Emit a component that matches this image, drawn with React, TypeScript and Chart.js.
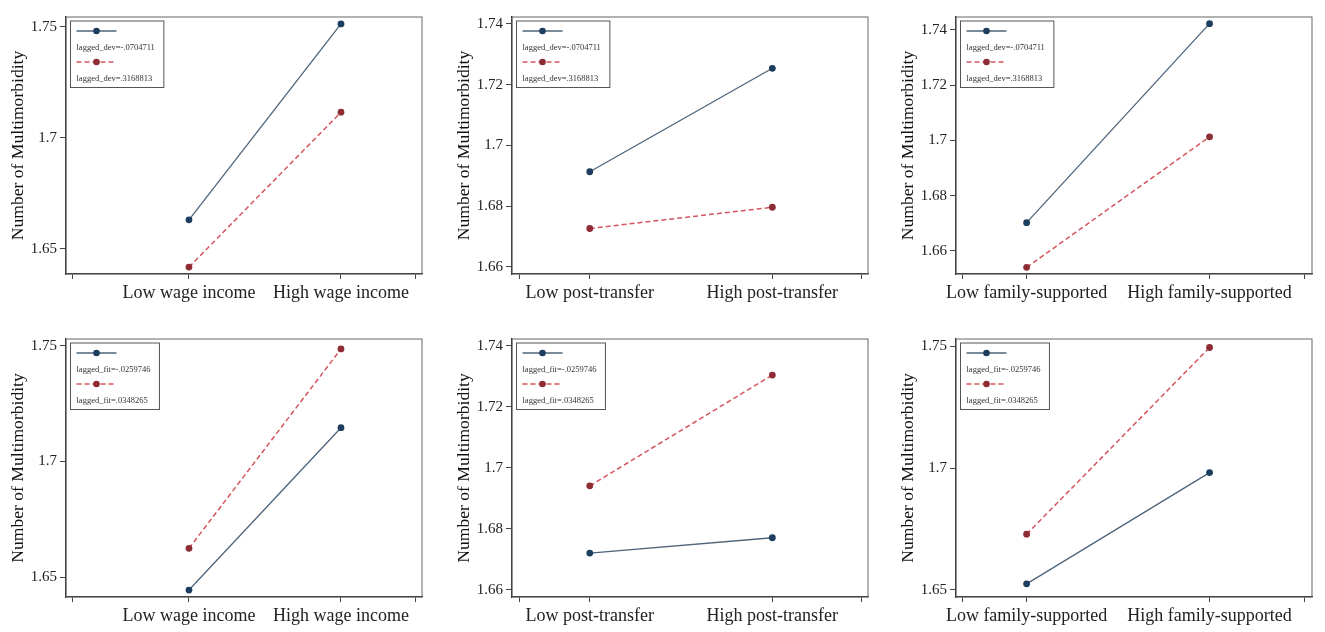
import React, { useEffect, useRef } from 'react';
import Chart from 'chart.js/auto';

// categories
const wageLabels = ['Low wage income', 'High wage income'];
const postLabels = ['Low post-transfer', 'High post-transfer'];
const familyLabels = ['Low family-supported', 'High family-supported'];

// legend labels
const devLegend = ['lagged_dev=-.0704711', 'lagged_dev=.3168813'];
const fitLegend = ['lagged_fit=-.0259746', 'lagged_fit=.0348265'];

// lagged_dev rows (top)
const devLowWage = [1.6631, 1.7514];
const devHighWage = [1.6418, 1.7116];
const devLowPost = [1.6913, 1.7254];
const devHighPost = [1.6726, 1.6796];
const devLowFamily = [1.6702, 1.7423];
const devHighFamily = [1.654, 1.7013];

// lagged_fit rows (bottom)
const fitLowWage = [1.6445, 1.7146];
const fitHighWage = [1.6625, 1.7486];
const fitLowPost = [1.6721, 1.6771];
const fitHighPost = [1.6941, 1.7304];
const fitLowFamily = [1.6524, 1.6981];
const fitHighFamily = [1.6728, 1.7495];

// y tick labels
const ticks05 = [1.65, 1.7, 1.75];
const ticks02 = [1.66, 1.68, 1.7, 1.72, 1.74];

const SERIF = '"Liberation Serif", "Times New Roman", serif';
const BLUE_LINE = '#4e6479';
const BLUE_DOT = '#1c3d5e';
const RED_LINE = '#d5555f';
const RED_DOT = '#8e2c35';

type Panel = {
  labels: string[];
  legend: string[];
  blue: number[];
  red: number[];
  yMin: number;
  yMax: number;
  yTicks: number[];
  xMin: number;
  xMax: number;
  xOuter: [number, number];
  left: number;
  top: number;
  plotH: number;
};

const PLOT_W = 356;
const AXIS_W = 66;
const PAD_TOP = 17;
const PAD_RIGHT = 12;
const XAXIS_H = 32;

const panels: Panel[] = [
  { labels: wageLabels, legend: devLegend, blue: devLowWage, red: devHighWage, yMin: 1.6387, yMax: 1.7545, yTicks: ticks05, xMin: 0.191, xMax: 2.533, xOuter: [0.237, 2.487], left: 66, top: 17, plotH: 257 },
  { labels: postLabels, legend: devLegend, blue: devLowPost, red: devHighPost, yMin: 1.6576, yMax: 1.7423, yTicks: ticks02, xMin: 0.574, xMax: 2.524, xOuter: [0.613, 2.486], left: 512, top: 17, plotH: 257 },
  { labels: familyLabels, legend: devLegend, blue: devLowFamily, red: devHighFamily, yMin: 1.6516, yMax: 1.7447, yTicks: ticks02, xMin: 0.614, xMax: 2.56, xOuter: [0.652, 2.519], left: 955.7, top: 17, plotH: 257 },
  { labels: wageLabels, legend: fitLegend, blue: fitLowWage, red: fitHighWage, yMin: 1.6415, yMax: 1.7529, yTicks: ticks05, xMin: 0.191, xMax: 2.533, xOuter: [0.237, 2.487], left: 66, top: 339.3, plotH: 258 },
  { labels: postLabels, legend: fitLegend, blue: fitLowPost, red: fitHighPost, yMin: 1.6577, yMax: 1.7422, yTicks: ticks02, xMin: 0.574, xMax: 2.524, xOuter: [0.613, 2.486], left: 512, top: 339.3, plotH: 258 },
  { labels: familyLabels, legend: fitLegend, blue: fitLowFamily, red: fitHighFamily, yMin: 1.647, yMax: 1.753, yTicks: ticks05, xMin: 0.614, xMax: 2.56, xOuter: [0.652, 2.519], left: 955.7, top: 339.3, plotH: 258 },
];

const PanelChart: React.FC<{ panel: Panel }> = ({ panel }) => {
  const canvasRef = useRef<HTMLCanvasElement>(null);
  const chartRef = useRef<Chart | null>(null);

  const width = AXIS_W + PLOT_W + PAD_RIGHT;
  const height = PAD_TOP + panel.plotH + XAXIS_H;

  useEffect(() => {
    if (!canvasRef.current) return;
    if (chartRef.current) chartRef.current.destroy();

    const framePlugin = {
      id: 'frame',
      beforeDatasetsDraw(chart: any) {
        const { ctx, chartArea: a } = chart;
        ctx.save();
        ctx.strokeStyle = '#666';
        ctx.lineWidth = 1;
        ctx.strokeRect(a.left, a.top, a.right - a.left, a.bottom - a.top);
        ctx.restore();
      },
    };

    const legendPlugin = {
      id: 'stataLegend',
      afterDatasetsDraw(chart: any) {
        const { ctx, chartArea: a } = chart;
        const x0 = a.left + 4.5;
        const y0 = a.top + 4;
        ctx.save();
        ctx.font = `8.5px ${SERIF}`;
        const tw = Math.max(...panel.legend.map((t) => ctx.measureText(t).width));
        const w = tw + 15;
        const h = 66.5;
        ctx.fillStyle = '#fff';
        ctx.fillRect(x0, y0, w, h);
        ctx.strokeStyle = '#555';
        ctx.lineWidth = 1;
        ctx.strokeRect(x0, y0, w, h);
        const rows = [
          { line: BLUE_LINE, dot: BLUE_DOT, dash: [] as number[], lw: 1.3 },
          { line: RED_LINE, dot: RED_DOT, dash: [5, 3], lw: 1.5 },
        ];
        rows.forEach((r, i) => {
          const sy = y0 + 10 + i * 31;
          ctx.strokeStyle = r.line;
          ctx.lineWidth = r.lw;
          ctx.setLineDash(r.dash);
          ctx.beginPath();
          ctx.moveTo(x0 + 6, sy);
          ctx.lineTo(x0 + 46, sy);
          ctx.stroke();
          ctx.setLineDash([]);
          ctx.fillStyle = r.dot;
          ctx.beginPath();
          ctx.arc(x0 + 26, sy, 3.3, 0, Math.PI * 2);
          ctx.fill();
          ctx.fillStyle = '#333';
          ctx.textBaseline = 'middle';
          ctx.textAlign = 'left';
          ctx.fillText(panel.legend[i], x0 + 6, sy + 17);
        });
        ctx.restore();
      },
    };

    const toPoints = (vals: number[]) => vals.map((v, i) => ({ x: i + 1, y: v }));

    chartRef.current = new Chart(canvasRef.current, {
      type: 'line',
      data: {
        datasets: [
          {
            label: panel.legend[0],
            data: toPoints(panel.blue),
            borderColor: BLUE_LINE,
            borderWidth: 1.3,
            pointRadius: 3.4,
            pointBackgroundColor: BLUE_DOT,
            pointBorderColor: BLUE_DOT,
            pointBorderWidth: 0,
            clip: false,
          },
          {
            label: panel.legend[1],
            data: toPoints(panel.red),
            borderColor: RED_LINE,
            borderWidth: 1.5,
            borderDash: [5, 3],
            pointRadius: 3.4,
            pointBackgroundColor: RED_DOT,
            pointBorderColor: RED_DOT,
            pointBorderWidth: 0,
            clip: false,
          },
        ],
      },
      options: {
        responsive: false,
        animation: false,
        layout: { padding: { left: 0, right: PAD_RIGHT, top: PAD_TOP, bottom: 0 } },
        plugins: {
          legend: { display: false },
          tooltip: { enabled: false },
        },
        scales: {
          x: {
            type: 'linear',
            min: panel.xMin,
            max: panel.xMax,
            afterBuildTicks: (scale: any) => {
              scale.ticks = [panel.xOuter[0], 1, 2, panel.xOuter[1]].map((v) => ({ value: v }));
            },
            afterFit: (scale: any) => {
              scale.height = XAXIS_H;
            },
            ticks: {
              autoSkip: false,
              maxRotation: 0,
              padding: 3,
              color: '#222',
              font: { family: SERIF, size: 18 },
              callback: (v: any) => {
                if (v === 1) return panel.labels[0];
                if (v === 2) return panel.labels[1];
                return '';
              },
            },
            grid: { drawOnChartArea: false, drawTicks: true, tickLength: 5, color: '#444' },
            border: { display: true, color: '#222', width: 1.3 },
          },
          y: {
            type: 'linear',
            min: panel.yMin,
            max: panel.yMax,
            afterBuildTicks: (scale: any) => {
              scale.ticks = panel.yTicks.map((v) => ({ value: v }));
            },
            afterFit: (scale: any) => {
              scale.width = AXIS_W;
            },
            ticks: {
              padding: 3,
              color: '#222',
              font: { family: SERIF, size: 15 },
              callback: (v: any) => String(Number(Number(v).toFixed(2))),
            },
            grid: { drawOnChartArea: false, drawTicks: true, tickLength: 6, color: '#444' },
            border: { display: true, color: '#222', width: 1.3 },
            title: {
              display: true,
              text: 'Number of Multimorbidity',
              color: '#111',
              font: { family: SERIF, size: 17.6 },
              padding: { top: 7.6, bottom: 0 },
            },
          },
        },
      },
      plugins: [framePlugin, legendPlugin],
    } as any);

    return () => {
      if (chartRef.current) {
        chartRef.current.destroy();
        chartRef.current = null;
      }
    };
  }, [panel]);

  return (
    <div
      style={{
        position: 'absolute',
        left: panel.left - AXIS_W,
        top: panel.top - PAD_TOP,
        width,
        height,
      }}
    >
      <canvas ref={canvasRef} width={width} height={height} style={{ width, height }} />
    </div>
  );
};

const App: React.FC = () => {
  return (
    <div
      style={{
        position: 'absolute',
        left: 0,
        top: 0,
        width: 1325,
        height: 632,
        background: '#fff',
        overflow: 'hidden',
      }}
    >
      {panels.map((p, i) => (
        <PanelChart key={i} panel={p} />
      ))}
    </div>
  );
};

export default App;
